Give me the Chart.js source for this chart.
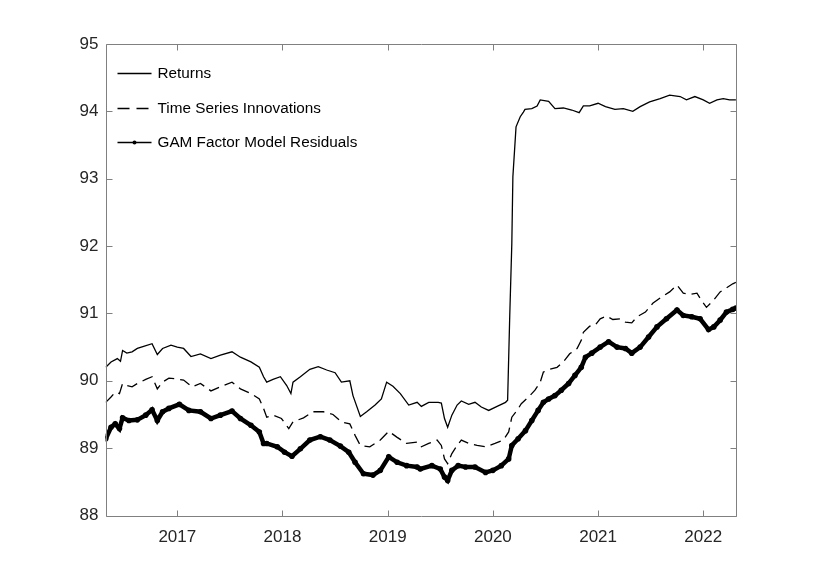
<!DOCTYPE html>
<html>
<head>
<meta charset="utf-8">
<title>Returns vs residuals</title>
<script src="https://cdn.jsdelivr.net/npm/chart.js@4.4.0/dist/chart.umd.min.js"></script>
<style>
    html, body { margin: 0; padding: 0; background: #ffffff; }
    #wrap { width: 814px; height: 581px; position: relative; }
</style>
</head>
<body>
<div id="wrap"><canvas id="residualsChart"></canvas></div>
<script>
// Tick labels
const yearTicks = [2017, 2018, 2019, 2020, 2021, 2022];
const valueTicks = [88, 89, 90, 91, 92, 93, 94, 95];

// Series 1: Returns (decimal years / values)
const returnsYears = [2016.32, 2016.37, 2016.43, 2016.46, 2016.48, 2016.52, 2016.57, 2016.62, 2016.68, 2016.76,
    2016.81, 2016.86, 2016.94, 2017.00, 2017.06, 2017.13, 2017.22, 2017.32, 2017.41, 2017.52,
    2017.60, 2017.70, 2017.78, 2017.82, 2017.85, 2017.91, 2017.98, 2018.04, 2018.08, 2018.10,
    2018.17, 2018.26, 2018.34, 2018.42, 2018.50, 2018.56, 2018.64, 2018.67, 2018.74, 2018.80,
    2018.88, 2018.94, 2018.99, 2019.05, 2019.12, 2019.20, 2019.28, 2019.32, 2019.39, 2019.48,
    2019.51, 2019.54, 2019.57, 2019.61, 2019.66, 2019.70, 2019.77, 2019.83, 2019.89, 2019.96,
    2020.04, 2020.12, 2020.14, 2020.16, 2020.18, 2020.19, 2020.22, 2020.26, 2020.29, 2020.305,
    2020.37, 2020.42, 2020.45, 2020.53, 2020.59, 2020.67, 2020.75, 2020.82, 2020.86, 2020.92,
    2021.00, 2021.07, 2021.16, 2021.24, 2021.33, 2021.40, 2021.49, 2021.59, 2021.68, 2021.78,
    2021.84, 2021.92, 2022.00, 2022.06, 2022.13, 2022.19, 2022.25, 2022.31];
const returnsValues = [90.20, 90.28, 90.33, 90.29, 90.45, 90.41, 90.43, 90.48, 90.51, 90.55,
    90.39, 90.48, 90.53, 90.50, 90.48, 90.36, 90.40, 90.33, 90.38, 90.43,
    90.35, 90.28, 90.20, 90.06, 89.98, 90.02, 90.06, 89.93, 89.81, 89.98,
    90.06, 90.17, 90.21, 90.16, 90.12, 89.98, 90.00, 89.78, 89.47, 89.54,
    89.64, 89.73, 89.98, 89.92, 89.81, 89.64, 89.68, 89.62, 89.68, 89.68,
    89.67, 89.44, 89.31, 89.49, 89.64, 89.70, 89.65, 89.68, 89.61, 89.56,
    89.62, 89.68, 89.71, 90.95, 92.04, 93.03, 93.77, 93.92, 93.99, 94.03,
    94.04, 94.08, 94.17, 94.15, 94.04, 94.05, 94.02, 93.98, 94.08, 94.08,
    94.12, 94.07, 94.03, 94.04, 94.00, 94.07, 94.14, 94.19, 94.24, 94.22,
    94.17, 94.22, 94.17, 94.12, 94.17, 94.19, 94.17, 94.17];

// Series 2: Time Series Innovations
const innovYears = [2016.32, 2016.37, 2016.41, 2016.45, 2016.48, 2016.52, 2016.57, 2016.62, 2016.70, 2016.76,
    2016.81, 2016.86, 2016.92, 2016.98, 2017.06, 2017.14, 2017.22, 2017.32, 2017.41, 2017.52,
    2017.60, 2017.70, 2017.78, 2017.82, 2017.85, 2017.91, 2017.99, 2018.06, 2018.10, 2018.20,
    2018.29, 2018.39, 2018.48, 2018.56, 2018.64, 2018.69, 2018.74, 2018.83, 2018.93, 2019.01,
    2019.09, 2019.18, 2019.28, 2019.32, 2019.39, 2019.47, 2019.51, 2019.54, 2019.57, 2019.61,
    2019.66, 2019.70, 2019.77, 2019.85, 2019.93, 2020.02, 2020.10, 2020.15, 2020.18, 2020.23,
    2020.27, 2020.34, 2020.40, 2020.45, 2020.48, 2020.54, 2020.61, 2020.67, 2020.73, 2020.80,
    2020.84, 2020.86, 2020.92, 2020.97, 2021.02, 2021.08, 2021.14, 2021.21, 2021.26, 2021.32,
    2021.37, 2021.45, 2021.52, 2021.60, 2021.68, 2021.75, 2021.81, 2021.87, 2021.94, 2021.98,
    2022.03, 2022.10, 2022.16, 2022.22, 2022.28, 2022.31];
const innovValues = [89.68, 89.76, 89.83, 89.81, 89.96, 89.93, 89.91, 89.96, 90.02, 90.06,
    89.88, 89.98, 90.04, 90.03, 90.01, 89.91, 89.96, 89.85, 89.91, 89.98,
    89.88, 89.81, 89.73, 89.59, 89.46, 89.49, 89.44, 89.29, 89.39, 89.45,
    89.54, 89.54, 89.50, 89.39, 89.36, 89.19, 89.04, 89.02, 89.12, 89.25,
    89.16, 89.07, 89.09, 89.02, 89.07, 89.12, 89.04, 88.84, 88.77, 88.92,
    89.04, 89.12, 89.07, 89.04, 89.02, 89.07, 89.12, 89.24, 89.46, 89.56,
    89.66, 89.76, 89.86, 89.98, 90.13, 90.17, 90.20, 90.28, 90.40, 90.48,
    90.60, 90.72, 90.81, 90.82, 90.92, 90.96, 90.91, 90.92, 90.87, 90.86,
    90.95, 91.02, 91.15, 91.24, 91.32, 91.42, 91.30, 91.28, 91.30, 91.20,
    91.09, 91.20, 91.32, 91.38, 91.44, 91.46];

// Series 3: GAM Factor Model Residuals
const gamYears = [2016.32, 2016.37, 2016.41, 2016.45, 2016.48, 2016.54, 2016.62, 2016.70, 2016.76, 2016.81,
    2016.86, 2016.92, 2017.02, 2017.11, 2017.22, 2017.32, 2017.41, 2017.52, 2017.60, 2017.70,
    2017.78, 2017.82, 2017.85, 2017.95, 2018.02, 2018.09, 2018.17, 2018.26, 2018.36, 2018.45,
    2018.55, 2018.63, 2018.69, 2018.77, 2018.86, 2018.93, 2019.01, 2019.09, 2019.18, 2019.28,
    2019.31, 2019.42, 2019.50, 2019.54, 2019.57, 2019.61, 2019.67, 2019.74, 2019.83, 2019.93,
    2020.00, 2020.08, 2020.15, 2020.18, 2020.24, 2020.31, 2020.37, 2020.43, 2020.48, 2020.53,
    2020.59, 2020.65, 2020.72, 2020.78, 2020.84, 2020.88, 2020.94, 2021.02, 2021.10, 2021.18,
    2021.26, 2021.32, 2021.40, 2021.48, 2021.56, 2021.65, 2021.75, 2021.81, 2021.89, 2021.97,
    2022.05, 2022.10, 2022.16, 2022.22, 2022.28, 2022.31];
const gamValues = [89.14, 89.31, 89.36, 89.29, 89.45, 89.41, 89.42, 89.49, 89.57, 89.41,
    89.54, 89.59, 89.65, 89.56, 89.54, 89.44, 89.49, 89.55, 89.44, 89.34,
    89.24, 89.07, 89.07, 89.02, 88.94, 88.88, 88.99, 89.12, 89.17, 89.12,
    89.03, 88.94, 88.79, 88.62, 88.60, 88.67, 88.87, 88.79, 88.74, 88.72,
    88.69, 88.74, 88.69, 88.57, 88.52, 88.67, 88.74, 88.72, 88.72, 88.64,
    88.67, 88.74, 88.84, 89.04, 89.14, 89.26, 89.41, 89.56, 89.68, 89.73,
    89.78, 89.86, 89.96, 90.08, 90.20, 90.35, 90.41, 90.50, 90.58, 90.50,
    90.48, 90.41, 90.50, 90.65, 90.80, 90.92, 91.05, 90.97, 90.95, 90.92,
    90.76, 90.80, 90.90, 91.02, 91.06, 91.08];

const seriesNames = ['Returns', 'Time Series Innovations', 'GAM Factor Model Residuals'];

const axisColor = '#808080';
const textColor = '#262626';
const tickLen = 6;

// pair up years and values for the linear x scale
function toPoints(xs, ys) {
    return xs.map(function (x, i) { return { x: x, y: ys[i] }; });
}

// MATLAB style box with inward ticks on all four sides
const boxTicksPlugin = {
    id: 'boxTicks',
    afterDatasetsDraw: function (chart) {
        const ctx = chart.ctx;
        const a = chart.chartArea;
        const xs = chart.scales.x;
        const ys = chart.scales.y;
        const l = Math.round(a.left) + 0.5, r = Math.round(a.right) + 0.5;
        const t = Math.round(a.top) + 0.5, b = Math.round(a.bottom) + 0.5;
        ctx.save();
        ctx.strokeStyle = axisColor;
        ctx.lineWidth = 1;
        ctx.beginPath();
        ctx.rect(l, t, r - l, b - t);
        xs.ticks.forEach(function (tk) {
            const px = Math.round(xs.getPixelForValue(tk.value)) + 0.5;
            ctx.moveTo(px, b); ctx.lineTo(px, b - tickLen);
            ctx.moveTo(px, t); ctx.lineTo(px, t + tickLen);
        });
        ys.ticks.forEach(function (tk) {
            const py = Math.round(ys.getPixelForValue(tk.value)) + 0.5;
            ctx.moveTo(l, py); ctx.lineTo(l + tickLen, py);
            ctx.moveTo(r, py); ctx.lineTo(r - tickLen, py);
        });
        ctx.stroke();
        ctx.restore();
    }
};

// legend drawn inside the axes, top left, no frame
const innerLegendPlugin = {
    id: 'innerLegend',
    afterDraw: function (chart) {
        const ctx = chart.ctx;
        const a = chart.chartArea;
        const x0 = a.left + 12, x1 = a.left + 46;
        ctx.save();
        ctx.font = '15.3px "Liberation Sans", Arial, Helvetica, sans-serif';
        ctx.textBaseline = 'middle';
        ctx.fillStyle = '#000';
        ctx.strokeStyle = '#000';
        seriesNames.forEach(function (name, i) {
            const y = Math.round(a.top + 29 + i * 34.5) + 0.5;
            ctx.lineWidth = 1.3;
            ctx.setLineDash(i === 1 ? [12, 7] : []);
            ctx.beginPath();
            ctx.moveTo(x0, y);
            ctx.lineTo(x1, y);
            ctx.stroke();
            ctx.setLineDash([]);
            if (i === 2) {
                ctx.beginPath();
                ctx.arc((x0 + x1) / 2, y, 2, 0, Math.PI * 2);
                ctx.fill();
            }
            ctx.fillText(name, x1 + 6, y);
        });
        ctx.restore();
    }
};

document.addEventListener('DOMContentLoaded', function () {
    const canvas = document.getElementById('residualsChart');

    new Chart(canvas, {
        type: 'line',
        data: {
            datasets: [{
                label: seriesNames[0],
                data: toPoints(returnsYears, returnsValues),
                borderColor: '#000',
                borderWidth: 1.3,
                pointRadius: 0,
                tension: 0
            }, {
                label: seriesNames[1],
                data: toPoints(innovYears, innovValues),
                borderColor: '#000',
                borderWidth: 1.3,
                borderDash: [11, 6],
                pointRadius: 0,
                tension: 0
            }, {
                label: seriesNames[2],
                data: toPoints(gamYears, gamValues),
                borderColor: '#000',
                backgroundColor: '#000',
                borderWidth: 4.5,
                pointRadius: 2.8,
                pointBorderWidth: 0,
                tension: 0
            }]
        },
        options: {
            responsive: true,
            maintainAspectRatio: false,
            animation: false,
            devicePixelRatio: 1,
            layout: { padding: { top: 44, right: 78, bottom: 0, left: 0 } },
            plugins: {
                legend: { display: false },
                tooltip: { enabled: false }
            },
            scales: {
                x: {
                    type: 'linear',
                    min: 2016.3175,
                    max: 2022.311,
                    afterBuildTicks: function (axis) {
                        axis.ticks = yearTicks.map(function (v) { return { value: v }; });
                    },
                    afterFit: function (scale) { scale.height = 65.5; },
                    grid: { display: false, drawTicks: false },
                    border: { display: false },
                    ticks: {
                        padding: 12,
                        color: textColor,
                        font: { family: '"Liberation Sans", Arial, Helvetica, sans-serif', size: 17 },
                        callback: function (v) { return String(v); }
                    }
                },
                y: {
                    min: 88,
                    max: 95,
                    afterBuildTicks: function (axis) {
                        axis.ticks = valueTicks.map(function (v) { return { value: v }; });
                    },
                    afterFit: function (scale) { scale.width = 105.5; },
                    grid: { display: false, drawTicks: false },
                    border: { display: false },
                    ticks: {
                        padding: 7,
                        color: textColor,
                        font: { family: '"Liberation Sans", Arial, Helvetica, sans-serif', size: 17 }
                    }
                }
            }
        },
        plugins: [boxTicksPlugin, innerLegendPlugin]
    });
});
</script>
</body>
</html>
